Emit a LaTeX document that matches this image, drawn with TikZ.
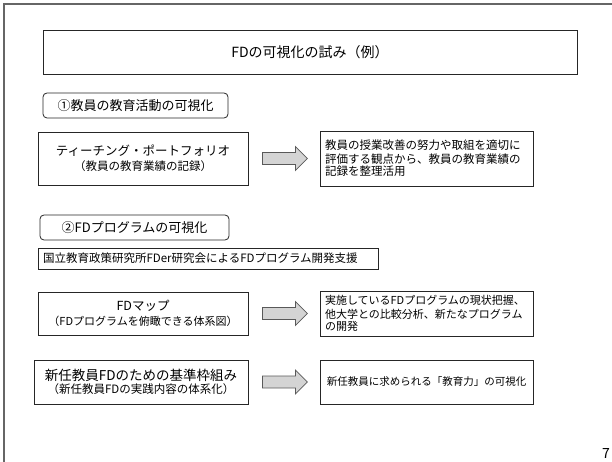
\documentclass[tikz,border=0pt]{standalone}
\usepackage{fontspec}
\setmainfont{Noto Sans CJK JP}
\usetikzlibrary{calc}
\newcommand{\fs}[1]{\fontsize{#1}{#1}\selectfont}
\begin{document}
\begin{tikzpicture}[x=1pt,y=-1pt,
  box/.style={draw=black!85, line width=0.8pt, inner sep=0pt, text=black},
  rbox/.style={box, rounded corners=4pt},
  blk/.style={draw=black!65, fill=black!17, line width=0.8pt, line join=miter},
  frame/.style={draw=black!60, line width=1.5pt}]
\useasboundingbox (0,0) rectangle (612,462);
\draw[frame] (4,462) -- (4,4) -- (612,4);

\node[box, minimum width=534, minimum height=44] (title) at (310,52) {\fs{14}FDの可視化の試み（例）};

\node[rbox, minimum width=185, minimum height=25] (s1) at (135.5,105.5) {\fs{13}①教員の教育活動の可視化};

\node[box, minimum width=210, minimum height=53, align=center] (teach) at (143,158.5)
  {\fs{12.5}ティーチング・ポートフォリオ\\[3pt]\fs{11.5}（教員の教育業績の記録）};
\node[box, minimum width=213, minimum height=55, text width=203, align=left] (r1) at (426.5,158.5)
  {\fontsize{11.5}{14}\selectfont 教員の授業改善の努力や取組を適切に\\評価する観点から、教員の教育業績の\\記録を整理活用};

\node[rbox, minimum width=189, minimum height=25] (s2) at (134.5,227.5) {\fs{13}②FDプログラムの可視化};

\node[box, minimum width=340, minimum height=21, text width=330, align=left] (nier) at (208,258.5)
  {\fs{11.5}国立教育政策研究所FDer研究会によるFDプログラム開発支援};

\node[box, minimum width=210, minimum height=43, align=center] (map) at (143,313.5)
  {\fs{12.5}FDマップ\\[3pt]\fs{11}（FDプログラムを俯瞰できる体系図）};
\node[box, minimum width=213, minimum height=45, text width=203, align=left] (r2) at (426.5,313.5)
  {\fontsize{11}{14}\selectfont 実施しているFDプログラムの現状把握、\\他大学との比較分析、新たなプログラム\\の開発};

\node[box, minimum width=214, minimum height=44, align=center] (new) at (141,382)
  {\fs{13.5}新任教員FDのための基準枠組み\\[1pt]\fs{11.5}（新任教員FDの実践内容の体系化）};
\node[box, minimum width=213, minimum height=44, align=center] (r3) at (426.5,382)
  {\fs{10.5}新任教員に求められる「教育力」の可視化};

\foreach \a in {teach,map,new}{
  \coordinate (s) at ($(\a.east)+(14,0)$);
  \draw[blk] (s) ++(0,-6) -- ++(33,0) -- ++(0,-6) -- ++(12,12) -- ++(-12,12) -- ++(0,-6) -- ++(-33,0) -- cycle;
}

\node[anchor=base east, inner sep=0pt] (pg) at (610,458) {\fs{14}7};
\end{tikzpicture}
\end{document}
